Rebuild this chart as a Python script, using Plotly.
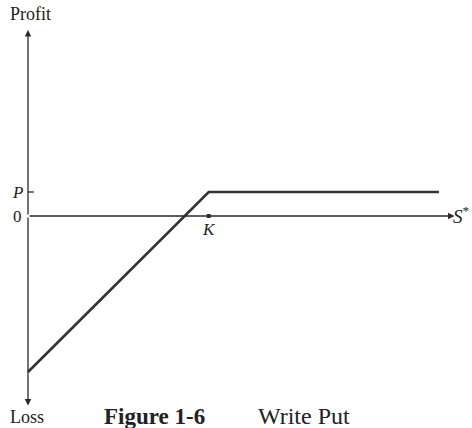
import plotly.graph_objects as go

# Data (chart units: strike K, premium P)
strike = 7.5
premium = 1.0
stock_price = [0, 7.5, 17.05]
profit = [-6.5, 1.0, 1.0]
x_axis_end = 17.7
y_axis_top = 7.75
y_axis_bottom = -7.9

W, H = 472, 428
x0px, y0px, sx, sy = 28, 216, 24.1, 24.0
xr = [-x0px / sx, (W - x0px) / sx]
yr = [(y0px - H) / sy, y0px / sy]

AX = "#2a2a2a"
FONT = "Liberation Serif"

fig = go.Figure()
fig.add_trace(go.Scatter(x=stock_price, y=profit, mode="lines",
                         line=dict(color="#333333", width=2.6), hoverinfo="skip"))
fig.add_trace(go.Scatter(x=[strike], y=[0], mode="markers",
                         marker=dict(color="#333333", size=4, symbol="square"), hoverinfo="skip"))

def arrow(x, y, ax, ay):
    fig.add_annotation(x=x, y=y, ax=ax, ay=ay, xref="x", yref="y", axref="x", ayref="y",
                       showarrow=True, arrowhead=2, arrowsize=1.0, arrowwidth=1.3,
                       arrowcolor=AX, text="", font=dict(size=1))

arrow(0, y_axis_top, 0, 0)
arrow(0, y_axis_bottom, 0, 0)
arrow(x_axis_end, 0, 0, 0)

# P tick
fig.add_shape(type="line", x0=0, x1=0.25, y0=premium, y1=premium,
              line=dict(color=AX, width=1.3))

def txt(x, y, t, size=14, **kw):
    fig.add_annotation(x=x, y=y, xref="x", yref="y", text=t, showarrow=False,
                       font=dict(family=FONT, size=size, color="#222222"), **kw)

def px_x(p):
    return (p - 28) / sx

def px_y(p):
    return (216 - p) / sy

txt(px_x(30), px_y(14), "Profit", 18)
txt(px_x(27), px_y(417), "Loss", 18)
txt(px_x(17), premium, "<i>P</i>", 17)
txt(px_x(17), 0, "0", 17)
txt(strike, px_y(229), "<i>K</i>", 17)
txt(px_x(451), px_y(215), "<i>S</i><sup>*</sup>", 19, xanchor="left")
txt(px_x(154), px_y(416), "<b>Figure 1-6</b>", 23)
txt(px_x(304), px_y(416), "Write Put", 24)

fig.update_layout(width=W, height=H, margin=dict(l=0, r=0, t=0, b=0),
                  paper_bgcolor="white", plot_bgcolor="white", showlegend=False,
                  xaxis=dict(range=xr, visible=False, fixedrange=True),
                  yaxis=dict(range=yr, visible=False, fixedrange=True))
fig.write_html("out.html", config={"displayModeBar": False, "staticPlot": True},
               post_script="document.body.style.margin='0';document.body.style.overflow='hidden';")
